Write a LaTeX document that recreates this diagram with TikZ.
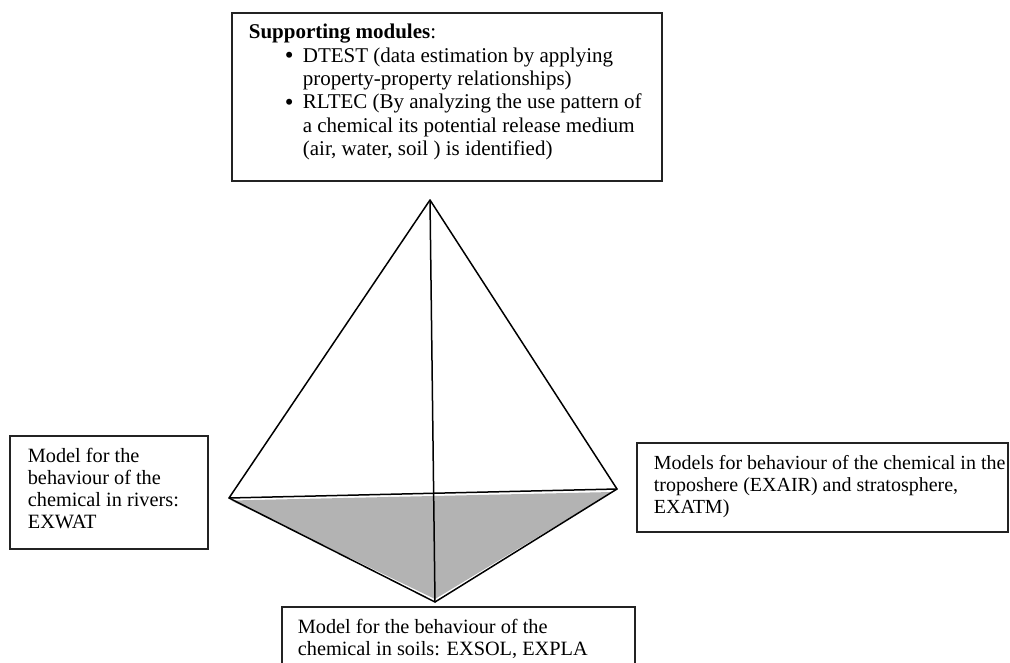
\documentclass[tikz,border=0pt]{standalone}
\usepackage{fontspec}
\setmainfont{Liberation Serif}
\usetikzlibrary{calc}
\definecolor{basegray}{RGB}{179,179,179}
\definecolor{framegray}{RGB}{35,35,35}
\newcommand{\modbullet}{\makebox[18pt][l]{\fontsize{25}{0}\selectfont\raisebox{-1.5pt}{\textbullet}}}
\begin{document}
\begin{tikzpicture}[x=1pt,y=-1pt,
  box/.style={draw=framegray, line width=1.7pt, anchor=north west,
    inner ysep=0pt, font=\fontsize{20.3}{21.8}\selectfont},
  edge/.style={line width=1.5pt, line join=round, line cap=round}]
\useasboundingbox (0,0) rectangle (1010,662);
\clip (0,0) rectangle (1010,662);

% text panels: \parbox[t][height][t]{width}
\node[box, inner xsep=17pt, font=\fontsize{21}{23.3}\selectfont] (support) at (231,12)
  {\parbox[t][168pt][t]{396pt}{\raggedright
   \rule{0pt}{26pt}\textbf{Supporting modules}:\\
   \hspace*{36pt}\modbullet DTEST (data estimation by applying\\
   \hspace*{54pt}property-property relationships)\\
   \hspace*{36pt}\modbullet RLTEC (By analyzing the use pattern of\\
   \hspace*{54pt}a chemical its potential release medium\\
   \hspace*{54pt}(air, water, soil ) is identified)}};

\node[box, inner xsep=18pt] (water) at (9,435)
  {\parbox[t][113pt][t]{162pt}{\raggedright
   \rule{0pt}{27pt}Model for the\\
   behaviour of the\\
   chemical in rivers:\\
   EXWAT}};

\node[box, inner xsep=0pt, font=\fontsize{20}{21.8}\selectfont] (air) at (636,442)
  {\hspace*{17pt}\parbox[t][89pt][t]{354pt}{\raggedright
   \rule{0pt}{27pt}Models for behaviour of the chemical in the\\
   troposhere (EXAIR) and stratosphere,\\
   EXATM)}};

\node[box, inner xsep=16pt] (soil) at (281,606)
  {\parbox[t][80pt][t]{321pt}{\raggedright
   \rule{0pt}{27pt}Model for the behaviour of the\\
   chemical in soils: EXSOL, EXPLA}};

% tetrahedron
\coordinate (apex) at (430,200);
\coordinate (L) at (229,498);
\coordinate (R) at (617,489);
\coordinate (B) at (435,602);

\fill[basegray] ($(L)+(2,2.5)$) -- ($(R)+(-5,3)$) -- ($(B)+(0,-3)$) -- cycle;
\draw[edge] (apex) -- (L) -- (B) -- (R) -- cycle;
\draw[edge] (L) -- (R);
\draw[edge] (apex) -- (B);
\end{tikzpicture}
\end{document}
